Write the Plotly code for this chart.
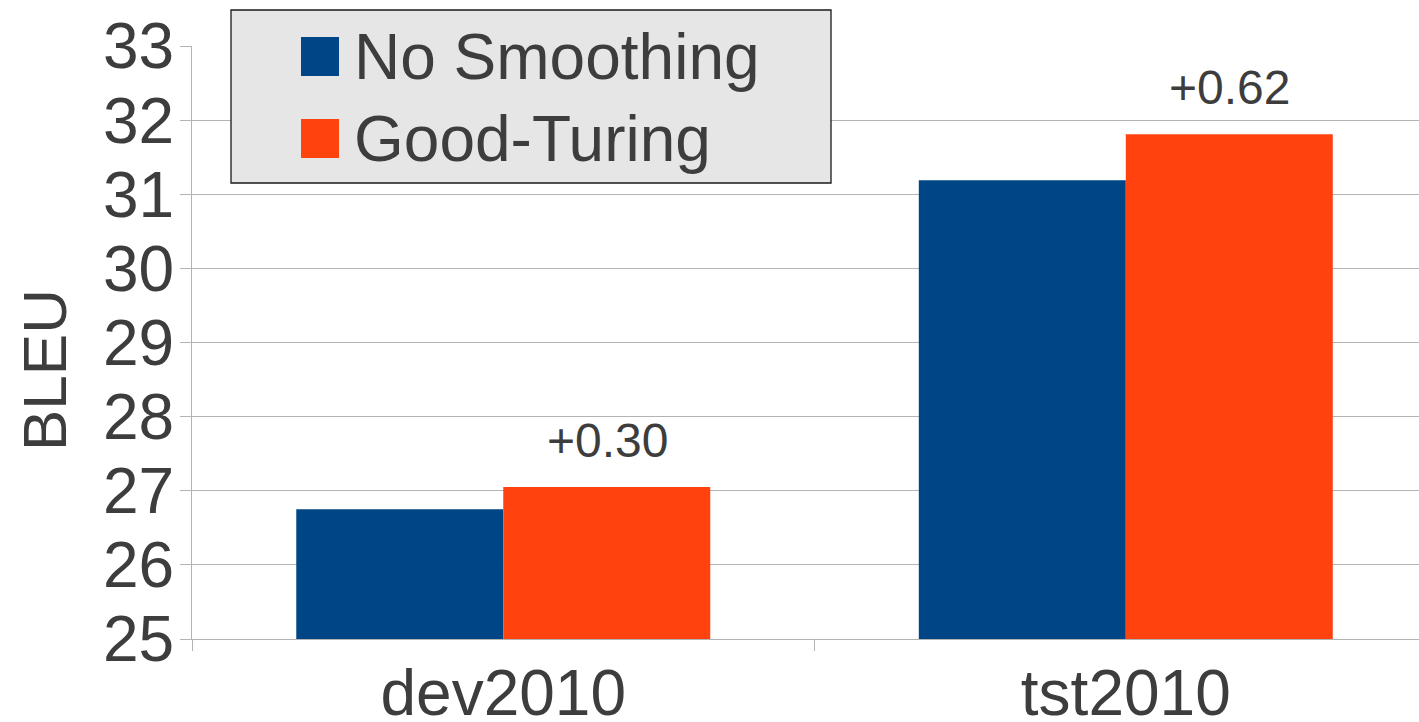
import plotly.graph_objects as go

categories = ["dev2010", "tst2010"]
no_smoothing = [26.75, 31.19]
good_turing = [27.05, 31.81]
series_names = ["No Smoothing", "Good-Turing"]
y_ticks = [25, 26, 27, 28, 29, 30, 31, 32, 33]

BLUE = "#004586"
ORANGE = "#ff420e"
TEXT = "#3d3d3d"
GRID = "#b3b3b3"
FONT = "Liberation Sans, Arial, sans-serif"

W, H = 1419, 722
L, R, T, B = 192, 0, 46, 83
PW, PH = W - L - R, H - T - B


def px_x(v):
    return (v - L) / PW


def px_y(v):
    return (H - B - v) / PH


fig = go.Figure()
fig.add_trace(go.Bar(x=categories, y=no_smoothing, name=series_names[0],
                     marker=dict(color=BLUE, line=dict(width=0)), showlegend=False))
fig.add_trace(go.Bar(x=categories, y=good_turing, name=series_names[1],
                     marker=dict(color=ORANGE, line=dict(width=0)), showlegend=False))

# gain labels over the Good-Turing bars
for cat, a, b in zip(categories, no_smoothing, good_turing):
    fig.add_annotation(x=cat, y=b, text=f"+{b - a:.2f}", showarrow=False,
                       xref="x", yref="y", xanchor="center", yanchor="bottom",
                       xshift=104, yshift=18,
                       font=dict(size=48, color=TEXT, family=FONT))

# hand-drawn legend box (plotly's bar legend icons are too small)
fig.add_shape(type="rect", xref="paper", yref="paper",
              x0=px_x(231), x1=px_x(831), y0=px_y(183), y1=px_y(10),
              fillcolor="#e6e6e6", line=dict(color="#1a1a1a", width=1.3), layer="above")
for name, color, top in zip(series_names, [BLUE, ORANGE], [37, 119]):
    fig.add_shape(type="rect", xref="paper", yref="paper",
                  x0=px_x(301), x1=px_x(339), y0=px_y(top + 39), y1=px_y(top),
                  fillcolor=color, line=dict(width=0), layer="above")
    fig.add_annotation(x=px_x(352), y=px_y(top + 20), xref="paper", yref="paper",
                       text=name, showarrow=False, xanchor="left", yanchor="middle",
                       font=dict(size=64, color=TEXT, family=FONT))

fig.add_annotation(x=px_x(44), y=px_y(370), xref="paper", yref="paper",
                   text="BLEU", showarrow=False, textangle=-90,
                   xanchor="center", yanchor="middle",
                   font=dict(size=62, color=TEXT, family=FONT))

fig.update_layout(
    width=W,
    height=H,
    margin=dict(l=L, r=R, t=T, b=B, pad=0),
    barmode="group",
    bargap=0.335,
    bargroupgap=0,
    plot_bgcolor="white",
    paper_bgcolor="white",
    font=dict(family=FONT, color=TEXT),
)
fig.update_xaxes(
    range=[-0.5, 1.471],
    automargin=False,
    tickson="boundaries",
    ticks="outside", ticklen=11, tickcolor=GRID, tickwidth=1,
    ticklabelstandoff=-2,
    showline=True, linecolor=GRID, linewidth=1,
    showgrid=False,
    tickfont=dict(size=64, color=TEXT, family=FONT),
)
fig.update_yaxes(
    range=[25, 33],
    automargin=False,
    tickvals=y_ticks,
    ticks="outside", ticklen=11, tickcolor=GRID, tickwidth=1,
    ticklabelstandoff=-7,
    showline=True, linecolor=GRID, linewidth=1,
    showgrid=True, gridcolor=GRID, gridwidth=1,
    zeroline=False,
    tickfont=dict(size=64, color=TEXT, family=FONT),
)

fig.write_html("out.html", config={"displayModeBar": False},
               post_script="document.body.style.margin='0';")
